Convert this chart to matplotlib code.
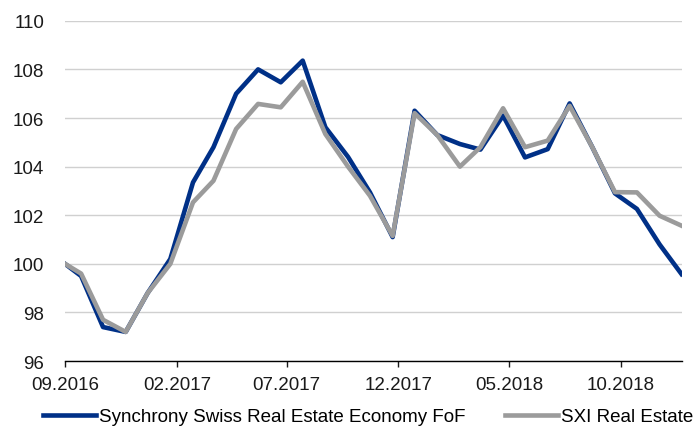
import matplotlib
matplotlib.use('Agg')
import matplotlib.pyplot as plt
import matplotlib.dates as mdates
import pandas as pd

# monthly observations, first point is the start date
dates = ['2016-09-01'] + list(pd.date_range('2016-09-23', periods=28, freq=pd.DateOffset(months=1)).strftime('%Y-%m-%d'))

fund = [100.0, 99.5, 97.4, 97.2, 98.8, 100.2, 103.35, 104.8, 107.0, 108.0,
        107.47, 108.36, 105.62, 104.4, 102.94, 101.1, 106.3, 105.3, 104.93, 104.7,
        106.1, 104.38, 104.72, 106.6, 104.8, 102.9, 102.26, 100.8, 99.58]
sxi = [100.0, 99.6, 97.7, 97.2, 98.8, 100.0, 102.53, 103.42, 105.55, 106.58,
       106.44, 107.49, 105.34, 104.0, 102.8, 101.15, 106.2, 105.3, 104.0, 104.8,
       106.4, 104.8, 105.07, 106.5, 104.8, 102.95, 102.94, 101.98, 101.57]
labels = ['Synchrony Swiss Real Estate Economy FoF', 'SXI Real Estate']
xticks = ['2016-09-01', '2017-02-01', '2017-07-01', '2017-12-01', '2018-05-01', '2018-10-01']
yticks = [96, 98, 100, 102, 104, 106, 108, 110]

plt.rcParams['font.family'] = ['Liberation Sans', 'DejaVu Sans']

x = pd.to_datetime(dates)

fig = plt.figure(figsize=(6.99, 4.27), dpi=100)
ax = fig.add_axes([0.093, 0.152, 0.882, 0.797])

ax.plot(x, fund, color='#003087', lw=3.3, label=labels[0])
ax.plot(x, sxi, color='#9B9B9B', lw=3.3, label=labels[1])

ax.set_xlim(x[0], x[-1])
ax.set_ylim(96, 110)
ax.set_yticks(yticks)
ax.set_xticks(pd.to_datetime(xticks))
ax.xaxis.set_major_formatter(mdates.DateFormatter('%m.%Y'))

ax.grid(axis='y', color='#D0D0D0', lw=1.0)
ax.set_axisbelow(True)
for s in ['left', 'right', 'top']:
    ax.spines[s].set_visible(False)
ax.spines['bottom'].set_color('black')
ax.spines['bottom'].set_linewidth(1.0)

ax.tick_params(axis='y', length=0, pad=15, labelsize=13.5, colors='#1A1A1A')
ax.tick_params(axis='x', length=4.5, width=1.0, pad=6, labelsize=13.5, colors='#1A1A1A')

fig.legend(loc='center', bbox_to_anchor=(0.527, 0.022), ncol=2, frameon=False,
           fontsize=13.5, handlelength=2.8, handletextpad=0.2, columnspacing=2.1,
           borderpad=0, borderaxespad=0)

fig.savefig('out.png', dpi=100)
